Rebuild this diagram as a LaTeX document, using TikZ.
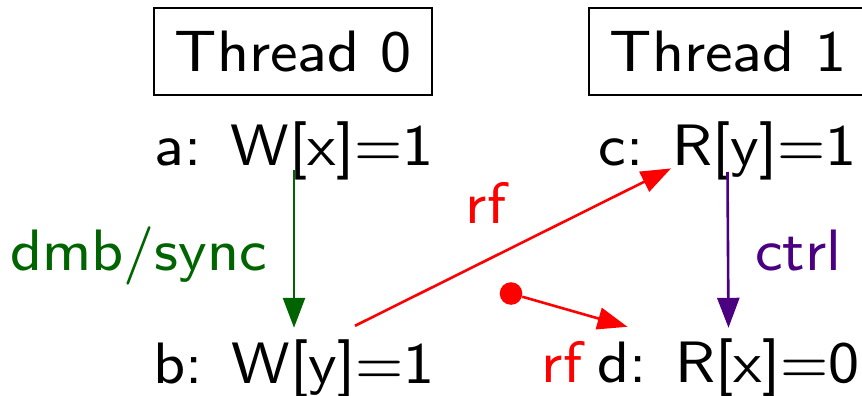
\documentclass[tikz,border=0pt]{standalone}
\usetikzlibrary{arrows.meta, positioning}
\definecolor{fencecol}{RGB}{0,100,0}
\definecolor{ctrlcol}{RGB}{75,0,130}
\definecolor{rfcol}{RGB}{255,0,0}
\font\evtfont="[lmsans8-regular]:mapping=tex-text" at 29.2pt
\tikzset{
  bigtext/.style={font=\evtfont},
  thread/.style={bigtext, draw, line width=1pt, inner sep=0pt,
                 minimum width=139pt, minimum height=43.5pt},
  evt/.style={bigtext, inner sep=0pt, anchor=base},
  lbl/.style={bigtext, inner sep=0pt, anchor=base},
  rel/.style={line width=1.3pt, -{Triangle[length=15pt,width=11pt]}}
}

\begin{document}
\begin{tikzpicture}[x=0.5pt,y=-0.5pt]
\useasboundingbox (0,0) rectangle (862,396);

% ── Threads ──────────────────────────────────────────────
\node[thread] (t0) at (293,51.5) {Thread 0};
\node[thread] (t1) at (728,51.5) {Thread 1};

% ── Events ───────────────────────────────────────────────
\node[evt] (a) at (294,165) {a:\enspace W[x]=1};
\node[evt] (b) at (294,383) {b:\enspace W[y]=1};
\node[evt] (c) at (727.5,165) {c:\enspace R[y]=1};
\node[evt] (d) at (728.5,382) {d:\enspace R[x]=0};
\node[circle, fill=rfcol, inner sep=0pt, minimum size=11.3pt] (init) at (511,293.5) {};

% ── Relations ────────────────────────────────────────────
\draw[rel, fencecol] ([yshift=5pt]a.south) -- ([yshift=5.5pt]b.north);
\draw[rel, ctrlcol] ([yshift=4pt]c.south) -- ([yshift=5pt]d.north);
\draw[rel, rfcol] ([shift={(30.5pt,6.5pt)}]b.north) -- ([shift={(-28.25pt,5.8pt)}]c.south);
\draw[rel, rfcol] (init) -- ([shift={(-50.5pt,5.5pt)}]d.north);

% ── Labels ───────────────────────────────────────────────
\node[lbl, fencecol] (fence) at (138.5,270) {dmb/sync};
\node[lbl, ctrlcol] (ctrl) at (798,270) {ctrl};
\node[lbl, rfcol] (rf1) at (486,223) {rf};
\node[lbl, rfcol] (rf2) at (562,382) {rf};

\end{tikzpicture}
\end{document}
